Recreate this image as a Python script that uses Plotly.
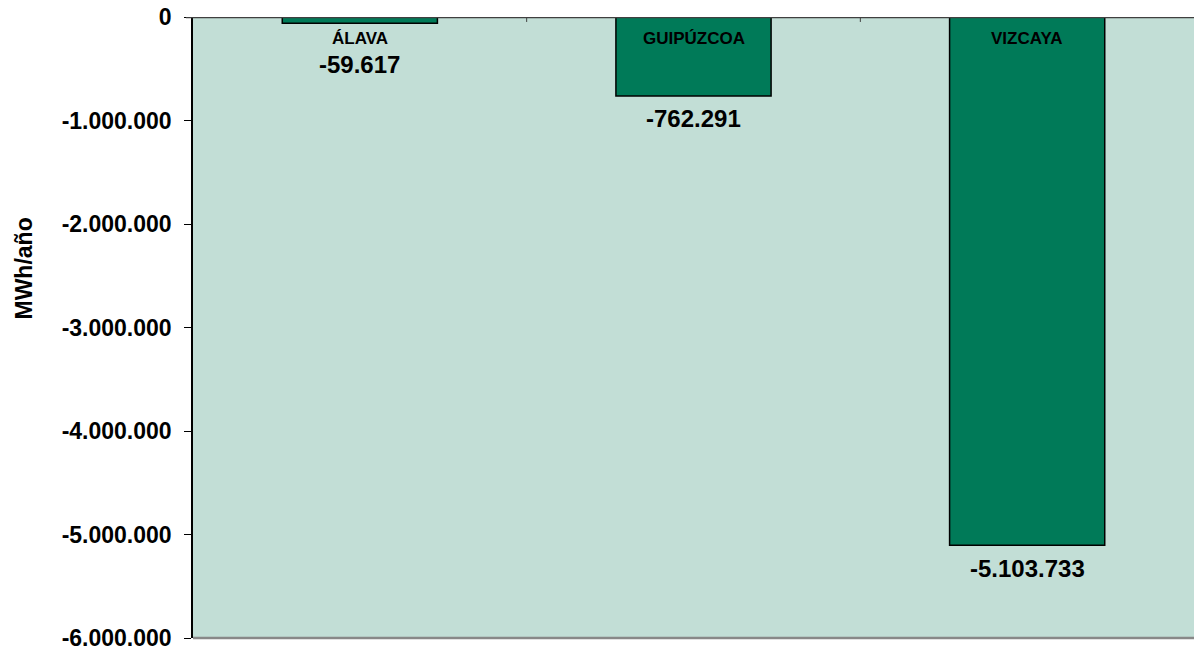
import plotly.graph_objects as go

provincias = ["ÁLAVA", "GUIPÚZCOA", "VIZCAYA"]
valores = [-59617, -762291, -5103733]
y_ticks = [0, -1000000, -2000000, -3000000, -4000000, -5000000, -6000000]
y_tick_labels = ["0", "-1.000.000", "-2.000.000", "-3.000.000", "-4.000.000", "-5.000.000", "-6.000.000"]
y_title = "MWh/año"


def fmt(v):
    s = f"{abs(v):,}".replace(",", ".")
    return ("-" if v < 0 else "") + s


FONT = "Liberation Sans, Arial, sans-serif"

fig = go.Figure()
fig.add_trace(go.Bar(
    x=provincias, y=valores,
    marker=dict(color="#007A58", line=dict(color="#000000", width=1.5)),
    width=0.465,
    hoverinfo="x+y",
))

annotations = []
for p, v in zip(provincias, valores):
    # category label just below the zero line
    annotations.append(dict(x=p, y=0, xref="x", yref="y", text=f"<b>{p}</b>",
                            showarrow=False, yanchor="middle", yshift=-21,
                            font=dict(family=FONT, size=17, color="#000000")))
    small = abs(v) < 300000
    annotations.append(dict(x=p, y=v, xref="x", yref="y", text=f"<b>{fmt(v)}</b>",
                            showarrow=False, yanchor="middle",
                            yshift=-41 if small else -23,
                            font=dict(family=FONT, size=24, color="#000000")))

# y axis title
annotations.append(dict(x=-(193 - 24) / 1001, y=0.595, xref="paper", yref="paper",
                        text=f"<b>{y_title}</b>", textangle=-90, showarrow=False,
                        xanchor="center", yanchor="middle",
                        font=dict(family=FONT, size=23, color="#000000")))

# bottom plot border
fig.add_shape(type="line", xref="paper", yref="paper", x0=0, x1=1, y0=0, y1=0,
              line=dict(color="#888888", width=2.5))

fig.update_layout(
    width=1194, height=650,
    margin=dict(l=193, r=0, t=17, b=12),
    paper_bgcolor="#FFFFFF",
    plot_bgcolor="#C2DED6",
    showlegend=False,
    bargap=0.5,
    annotations=annotations,
    font=dict(family=FONT, color="#000000"),
    xaxis=dict(showticklabels=False, showgrid=False, zeroline=False,
               showline=False, ticks=""),
    yaxis=dict(range=[-6000000, 0], tickvals=y_ticks, ticktext=[f"<b>{t}</b>" for t in y_tick_labels],
               tickfont=dict(family=FONT, size=23, color="#000000"),
               showgrid=False, zeroline=False,
               showline=True, linecolor="#000000", linewidth=1.5,
               ticks="outside", ticklen=7, tickcolor="#000000", tickwidth=1,
               ticklabelstandoff=8, ticklabeloverflow="allow"),
)

# top zero line (x axis at zero)
fig.add_shape(type="line", xref="paper", yref="y", x0=-0.007, x1=1, y0=0, y1=0,
              line=dict(color="#404040", width=2.5), layer="above")
# category boundary ticks on the zero line
for b in [0.5, 1.5]:
    fig.add_shape(type="line", xref="x", yref="paper", x0=b, x1=b, y0=1, y1=0.992,
                  line=dict(color="#404040", width=1))

fig.write_html("out.html", config={"displayModeBar": False},
               post_script="document.body.style.margin='0';")
